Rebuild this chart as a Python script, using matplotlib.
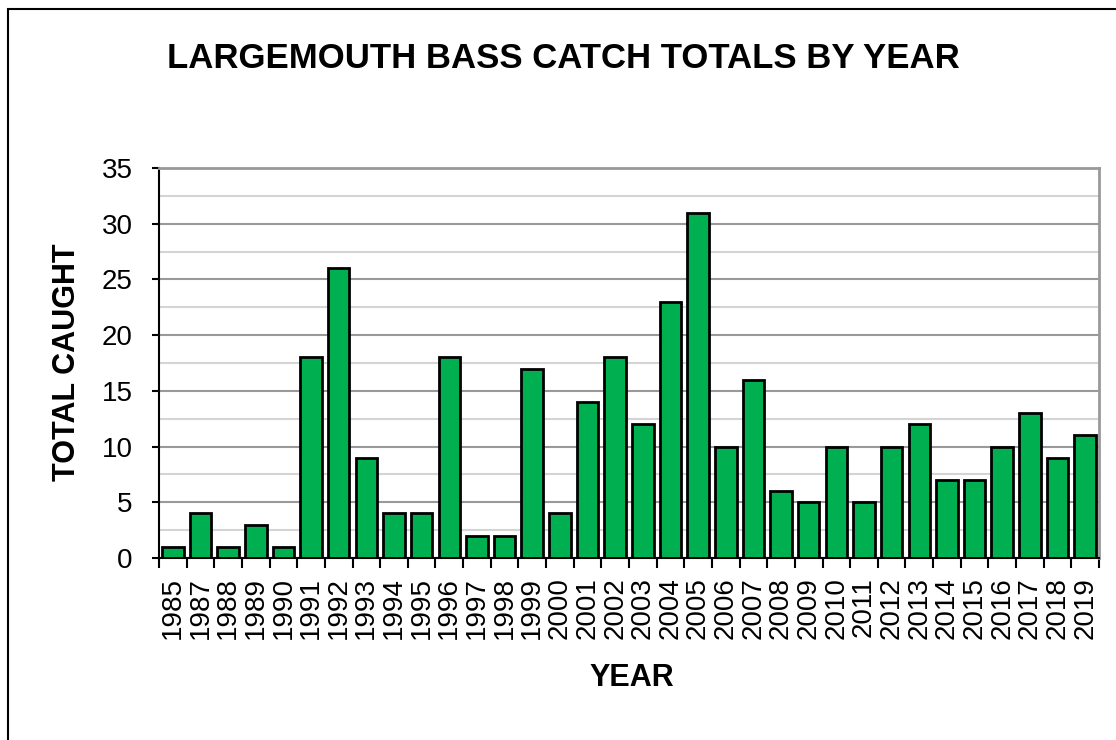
import matplotlib.pyplot as plt
import numpy as np
from matplotlib.patches import Rectangle

plt.rcParams['font.family'] = ['Liberation Sans', 'DejaVu Sans']

years = ["1985", "1987", "1988", "1989", "1990", "1991", "1992", "1993", "1994", "1995",
         "1996", "1997", "1998", "1999", "2000", "2001", "2002", "2003", "2004", "2005",
         "2006", "2007", "2008", "2009", "2010", "2011", "2012", "2013", "2014", "2015",
         "2016", "2017", "2018", "2019"]
caught = [1, 4, 1, 3, 1, 18, 26, 9, 4, 4,
          18, 2, 2, 17, 4, 14, 18, 12, 23, 31,
          10, 16, 6, 5, 10, 5, 10, 12, 7, 7,
          10, 13, 9, 11]

fig = plt.figure(figsize=(11.16, 7.4), dpi=100)
ax = fig.add_axes([159 / 1116, 1 - 558 / 740, (1099 - 159) / 1116, (558 - 168) / 740])

# outer chart border (only left/top visible in reference)
fig.patches.append(Rectangle((8 / 1116, -0.1), 1.2, 0.1 + (740 - 9) / 740,
                             transform=fig.transFigure, fill=False,
                             edgecolor='black', linewidth=1.5))

x = np.arange(len(years))
ax.bar(x, caught, width=0.78, color='#00B050', edgecolor='black', linewidth=2, zorder=3)

ax.set_xlim(-0.5, len(years) - 0.5)
ax.set_ylim(0, 35)
ax.set_yticks(np.arange(0, 36, 5))
ax.set_yticks(np.arange(2.5, 35, 5), minor=True)
ax.yaxis.grid(True, which='major', color='#999999', linewidth=1.5, zorder=0)
ax.yaxis.grid(True, which='minor', color='#d4d4d4', linewidth=1.5, zorder=0)
ax.tick_params(axis='y', which='minor', length=0)
ax.tick_params(axis='y', which='major', labelsize=20, length=5, width=1.5,
               direction='out', pad=14)

ax.set_xticks(x)
ax.set_xticklabels(years, rotation=90, fontsize=20)
ax.tick_params(axis='x', which='major', length=0, pad=14)
ax.set_xticks(np.arange(-0.5, len(years), 1), minor=True)
ax.tick_params(axis='x', which='minor', length=7, width=1.5, direction='out')

for side in ['top', 'right']:
    ax.spines[side].set_color('#999999')
    ax.spines[side].set_linewidth(2)
for side in ['left', 'bottom']:
    ax.spines[side].set_color('black')
    ax.spines[side].set_linewidth(1.5)

fig.text(563 / 1116, 1 - 59 / 740, "LARGEMOUTH BASS CATCH TOTALS BY YEAR",
         ha='center', va='center', fontsize=25, fontweight='bold')
fig.text(632 / 1116, 1 - 678 / 740, "YEAR", ha='center', va='center',
         fontsize=22, fontweight='bold')
fig.text(67 / 1116, 1 - 362 / 740, "TOTAL CAUGHT", ha='center', va='center',
         rotation=90, fontsize=22, fontweight='bold')

fig.savefig("out.png", dpi=100)
